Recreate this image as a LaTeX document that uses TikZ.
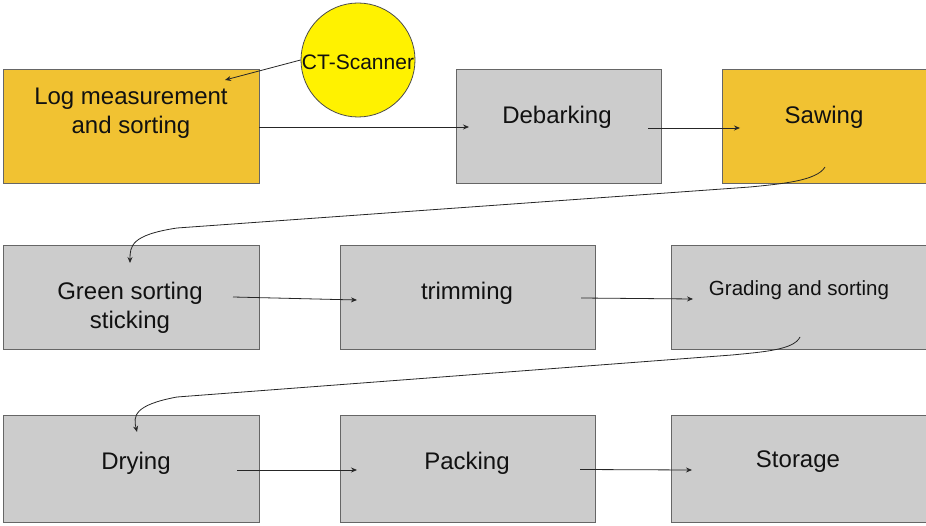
\documentclass[tikz,border=0pt]{standalone}
\usepackage{fontspec}
\setmainfont{Liberation Sans}
\usetikzlibrary{arrows.meta,calc}
\definecolor{boxgold}{HTML}{F1C232}
\definecolor{boxgray}{HTML}{CCCCCC}
\definecolor{edgegray}{HTML}{666666}
\definecolor{txt}{HTML}{111111}
\begin{document}
\begin{tikzpicture}[x=1pt,y=-1pt,
  proc/.style={draw=edgegray,line width=1pt,rectangle,inner sep=0pt,outer sep=0pt},
  gold/.style={proc,fill=boxgold},
  gray/.style={proc,fill=boxgray},
  lbl/.style={text=txt,align=center,inner sep=0pt,font=\fontsize{24}{29}\selectfont},
  small/.style={lbl,font=\fontsize{20.5}{25}\selectfont},
  flow/.style={draw=black!85,line width=0.8pt,-{Stealth[length=6pt,width=5pt]}}]
\useasboundingbox (0,0) rectangle (926,526);
% row 1
\node[gold,minimum width=256pt,minimum height=114pt] (A) at (131,127) {};
\node[gray,minimum width=205pt,minimum height=114pt] (B) at (558.5,127) {};
\node[gold,minimum width=204pt,minimum height=114pt] (C) at (824,127) {};
% row 2
\node[gray,minimum width=256pt,minimum height=104pt] (D) at (131,298) {};
\node[gray,minimum width=255pt,minimum height=104pt] (E) at (467.5,298) {};
\node[gray,minimum width=255pt,minimum height=104pt] (F) at (798.5,298) {};
% row 3
\node[gray,minimum width=256pt,minimum height=107pt] (G) at (131,468.5) {};
\node[gray,minimum width=255pt,minimum height=107pt] (H) at (467.5,468.5) {};
\node[gray,minimum width=255pt,minimum height=107pt] (I) at (798.5,468.5) {};
% scanner
\node[circle,draw=black!70,line width=0.8pt,fill=yellow,minimum size=114pt,inner sep=0pt] (S) at (358,60) {};
\node[lbl,font=\fontsize{21}{25}\selectfont] (St) at (358,62) {CT-Scanner};
% labels
\node[lbl] (At) at (131,113) {Log measurement\\and sorting};
\node[lbl] (Bt) at (557,117) {Debarking};
\node[lbl] (Ct) at (824,117) {Sawing};
\node[lbl] (Dt) at (130,308) {Green sorting\\sticking};
\node[lbl] (Et) at (467,293) {trimming};
\node[small] (Ft) at (799,290) {Grading and sorting};
\node[lbl] (Gt) at (136,463) {Drying};
\node[lbl] (Ht) at (467,463) {Packing};
\node[lbl] (It) at (798,462) {Storage};
% connectors
\draw[flow] (S.west) -- ($(A.north west)+(222,10)$);
\draw[flow] (A.east) -- ($(B.west)+(13,0)$);
\draw[flow] ($(B.east)+(-13,1)$) -- ($(C.west)+(18,1)$);
\draw[flow] ($(C.south)+(1,-17)$) .. controls +(-8,14) and +(30,-3) .. ($(C.south west)+(28,3)$)
  -- (177,228) .. controls (131,235) and (130,246) .. ($(D.north)+(-1,17)$);
\draw[flow] ($(D.east)+(-26,-1)$) -- ($(E.west)+(17,2)$);
\draw[flow] ($(E.east)+(-14,0)$) -- ($(F.west)+(22,1)$);
\draw[flow] ($(F.south)+(1.5,-13)$) .. controls +(-6,13) and +(30,-3) .. ($(F.south west)+(61,5)$)
  -- (177,397) .. controls (134,405) and (133,416) .. ($(G.north)+(6,17)$);
\draw[flow] ($(G.east)+(-22,1.5)$) -- ($(H.west)+(17,1.5)$);
\draw[flow] ($(H.east)+(-15,1)$) -- ($(I.west)+(21,1.5)$);
\end{tikzpicture}
\end{document}
